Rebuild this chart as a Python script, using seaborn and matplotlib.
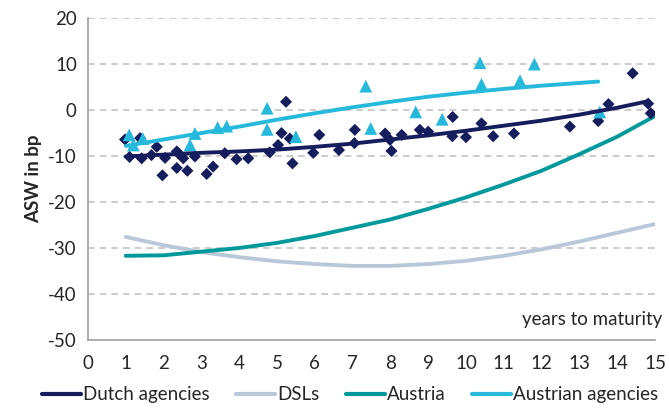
import matplotlib
matplotlib.use("Agg")
import matplotlib.pyplot as plt
import seaborn as sns
from matplotlib.lines import Line2D

sns.set_style("white")
plt.rcParams["font.family"] = ["Lato", "DejaVu Sans"]

# Scatter observations: years to maturity and asset swap spread (bp)
dutch_x = [0.98, 1.10, 1.38, 1.42, 1.68, 1.82, 1.97, 2.04, 2.35, 2.39, 2.35, 2.52, 2.63,
           2.83, 3.14, 3.31, 3.62, 3.93, 4.24, 4.81, 5.03, 5.12, 5.24, 5.34, 5.41,
           5.96, 6.12, 6.64, 7.05, 7.06, 7.86, 7.99, 8.03, 8.30, 8.78, 9.00, 9.64,
           9.65, 10.00, 10.41, 10.72, 11.27, 12.75, 13.50, 13.77, 14.41, 14.82, 14.89]
dutch_y = [-6.4, -10.2, -6.1, -10.5, -9.8, -8.0, -14.2, -10.4, -12.6, -9.4, -9.0, -10.5, -13.2,
           -10.1, -13.9, -12.3, -9.4, -10.7, -10.5, -9.2, -7.6, -5.0, 1.8, -6.2, -11.6,
           -9.3, -5.4, -8.7, -7.2, -4.3, -5.1, -6.5, -8.9, -5.4, -4.3, -4.7, -5.7,
           -1.5, -5.9, -2.9, -5.7, -5.1, -3.6, -2.4, 1.3, 8.0, 1.4, -0.7]

austrian_ag_x = [1.09, 1.20, 1.45, 2.70, 2.83, 3.43, 3.67, 4.74, 4.74, 5.50, 7.35, 7.48,
                 8.67, 9.37, 10.37, 10.41, 11.43, 11.81, 13.54]
austrian_ag_y = [-5.4, -7.6, -6.2, -7.6, -5.1, -3.8, -3.5, 0.4, -4.2, -5.8, 5.2, -4.0,
                 -0.4, -2.0, 10.3, 5.6, 6.4, 10.0, -0.4]

# Fitted curves, read at whole years
dutch_fit_x = [1, 2, 3, 4, 5, 6, 7, 8, 9, 10, 11, 12, 13, 14, 14.8]
dutch_fit_y = [-10.1, -9.7, -9.3, -9.0, -8.6, -8.0, -7.3, -6.4, -5.5, -4.5, -3.4, -2.3, -1.0, 0.5, 1.9]

dsl_x = [1, 2, 3, 4, 5, 6, 7, 8, 9, 10, 11, 12, 13, 14, 15]
dsl_y = [-27.6, -29.4, -30.9, -32.0, -32.9, -33.5, -33.9, -33.9, -33.5, -32.8, -31.7, -30.3, -28.6, -26.7, -24.8]

austria_x = [1, 2, 3, 4, 5, 6, 7, 8, 9, 10, 11, 12, 13, 14, 15]
austria_y = [-31.7, -31.6, -30.8, -30.0, -28.9, -27.4, -25.6, -23.8, -21.5, -19.0, -16.2, -13.2, -9.6, -5.8, -1.3]

austrian_fit_x = [1, 2, 3, 4, 5, 6, 7, 8, 9, 10, 11, 12, 13, 13.5]
austrian_fit_y = [-7.8, -6.4, -5.0, -3.6, -2.1, -0.7, 0.6, 1.8, 2.9, 3.8, 4.6, 5.3, 5.9, 6.2]

x_ticks = list(range(0, 16))
y_ticks = [-50, -40, -30, -20, -10, 0, 10, 20]

c_dutch = "#161d5c"
c_dsl = "#b9c8d9"
c_austria = "#00999b"
c_austrian = "#27b9dc"

FS = 13.5

fig = plt.figure(figsize=(6.69, 4.12), dpi=100)
ax = fig.add_axes([0.1315, 0.175, 0.8475, 0.781])

for y in y_ticks[1:]:
    ax.axhline(y, color="#c4c4c4", lw=1.2, ls=(0, (4, 3)), zorder=0)

sns.lineplot(x=dsl_x, y=dsl_y, ax=ax, color=c_dsl, lw=2.8, zorder=2)
sns.lineplot(x=austria_x, y=austria_y, ax=ax, color=c_austria, lw=2.8, zorder=2)
sns.scatterplot(x=dutch_x, y=dutch_y, ax=ax, marker="D", s=38, color=c_dutch,
                edgecolor="none", zorder=3)
sns.scatterplot(x=austrian_ag_x, y=austrian_ag_y, ax=ax, marker="^", s=85, color=c_austrian,
                edgecolor="none", zorder=3)
sns.lineplot(x=dutch_fit_x, y=dutch_fit_y, ax=ax, color=c_dutch, lw=2.8, zorder=4)
sns.lineplot(x=austrian_fit_x, y=austrian_fit_y, ax=ax, color=c_austrian, lw=2.8, zorder=4)

ax.set_xlim(0, 15)
ax.set_ylim(-50, 20)
ax.set_xticks(x_ticks)
ax.set_yticks(y_ticks)
ax.set_xticklabels([str(v) for v in x_ticks], fontsize=FS)
ax.set_yticklabels([str(v) for v in y_ticks], fontsize=FS)
ax.tick_params(axis="x", direction="out", length=5, width=1, color="#a0a0a0", pad=6)
ax.tick_params(axis="y", direction="out", length=5, width=1, color="#a0a0a0", pad=3)
for side in ["top", "right"]:
    ax.spines[side].set_visible(False)
for side in ["left", "bottom"]:
    ax.spines[side].set_color("#a0a0a0")
    ax.spines[side].set_linewidth(1.2)

ax.set_ylabel("ASW in bp", fontsize=FS, fontweight="bold", labelpad=4)
ax.set_xlabel("")
ax.text(1.013, -45.5, "years to maturity", transform=ax.get_yaxis_transform(),
        ha="right", va="center", fontsize=FS)

handles = [Line2D([], [], color=c, lw=3) for c in [c_dutch, c_dsl, c_austria, c_austrian]]
labels = ["Dutch agencies", "DSLs", "Austria", "Austrian agencies"]
fig.legend(handles, labels, loc="center", bbox_to_anchor=(0.523, 0.042), ncol=4,
           frameon=False, fontsize=FS, handlelength=2.1, handletextpad=0.1,
           columnspacing=1.4)

fig.savefig("out.png", dpi=100)
